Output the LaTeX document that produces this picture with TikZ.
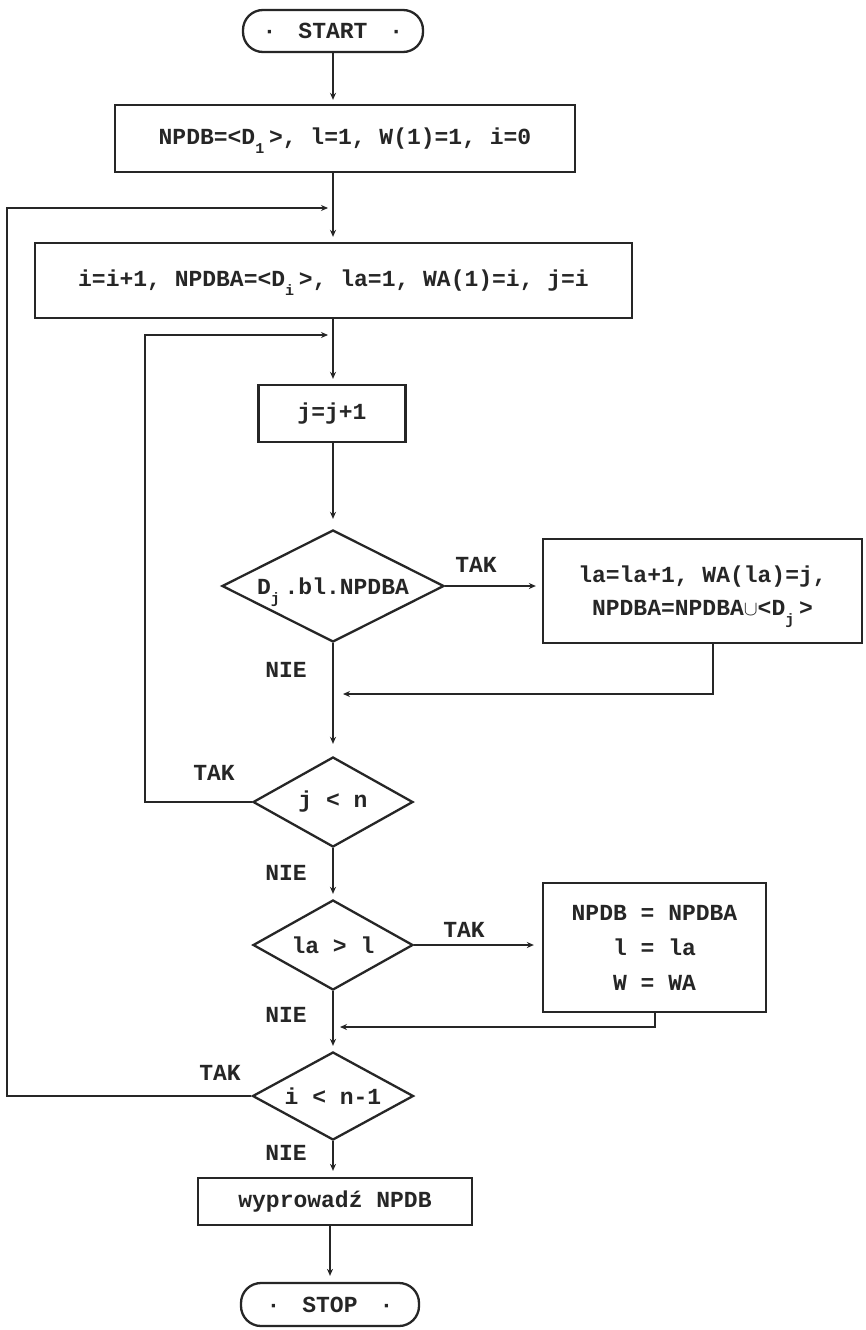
\documentclass[tikz,border=0pt]{standalone}
\usepackage{fontspec}
\setmonofont{Liberation Mono}
\usetikzlibrary{arrows.meta,shapes.geometric,calc}

\definecolor{ink}{HTML}{262626}

% lowered typewriter-style index, occupying one character cell
\newcommand\lowidx[1]{\makebox[13.8pt][l]{\raisebox{-9pt}[0pt][0pt]{\fontsize{15}{15}\selectfont #1}}}

\begin{document}
\begin{tikzpicture}[x=1pt,y=-1pt,
  every node/.style={font=\ttfamily\bfseries\fontsize{23}{33}\selectfont, text=ink},
  procbox/.style={draw=ink, line width=2.3pt, rectangle, inner sep=0pt, align=center},
  termbox/.style={draw=ink, line width=2.3pt, rectangle, rounded corners=20pt, inner sep=0pt},
  decision/.style={draw=ink, line width=2.3pt, diamond, aspect=2, inner sep=0pt},
  flow/.style={draw=ink, line width=2pt, -{Stealth[length=7pt,width=6pt]}},
  lbl/.style={inner sep=0pt}
]
\useasboundingbox (0,0) rectangle (865,1330);
\fill[white] (0,0) rectangle (865,1330);

\coordinate (axis) at (333,0);

% ---- nodes ----
\node[termbox, minimum width=180pt, minimum height=42pt] (start) at (333,31)
  {·\hspace{22pt}START\hspace{22pt}·};

\node[procbox, minimum width=460pt, minimum height=67pt] (init) at (345,138.5)
  {NPDB=<D\lowidx{1}>, l=1, W(1)=1, i=0};

\node[procbox, minimum width=597pt, minimum height=75pt] (outer) at (333.5,280.5)
  {i=i+1, NPDBA=<D\lowidx{i}>, la=1, WA(1)=i, j=i};

\node[procbox, minimum width=147pt, minimum height=57pt] (incr) at (332,413.5)
  {j=j+1};

\node[decision, minimum width=222pt, minimum height=112pt] (dbl) at (333,586)
  {D\lowidx{j}.bl.NPDBA};

\node[procbox, minimum width=319pt, minimum height=104pt] (add) at (702.5,591)
  {la=la+1, WA(la)=j,\\NPDBA=NPDBA{\fontsize{20}{20}\selectfont$\cup$}<D\lowidx{j}>};

\node[decision, minimum width=160pt, minimum height=90pt] (jlt) at (333,802)
  {j < n};

\node[decision, minimum width=160pt, minimum height=90pt] (lagt) at (333,945)
  {la > l};

\node[procbox, minimum width=223pt, minimum height=129pt,
      font=\ttfamily\bfseries\fontsize{23}{35}\selectfont] (best) at (654.5,947.5)
  {NPDB = NPDBA\\l = la\\W = WA};

\node[decision, minimum width=161pt, minimum height=88pt] (ilt) at (333,1096)
  {i < n-1};

\node[procbox, minimum width=274pt, minimum height=47pt] (out) at (335,1201.5)
  {wyprowadź NPDB};

\node[termbox, minimum width=178pt, minimum height=43pt] (stop) at (330,1304.5)
  {·\hspace{22pt}STOP\hspace{22pt}·};

% ---- branch labels ----
\node[lbl] (takA) at (476,565)  {TAK};
\node[lbl] (nieA) at (286,670)  {NIE};
\node[lbl] (takB) at (214,773)  {TAK};
\node[lbl] (nieB) at (286,873)  {NIE};
\node[lbl] (takC) at (464,930)  {TAK};
\node[lbl] (nieC) at (286,1015) {NIE};
\node[lbl] (takD) at (220,1073) {TAK};
\node[lbl] (nieD) at (286,1153) {NIE};

% ---- loop corners and junctions ----
\coordinate (outerL) at (7,208);
\coordinate (innerL) at (145,335);
\coordinate (joinA) at (333,694);
\coordinate (joinB) at (333,1027);

% ---- connectors ----
\draw[flow, shorten >=4pt] (start.south) -- (axis |- init.north);
\draw[flow, shorten >=5pt] (init.south -| axis) -- (axis |- outer.north);
\draw[flow, shorten >=5pt] (ilt.west) -| (outerL) -- (outerL -| axis);

\draw[flow, shorten >=5pt] (outer.south -| axis) -- (axis |- incr.north);
\draw[flow, shorten >=5pt] (jlt.west) -| (innerL) -- (innerL -| axis);

\draw[flow, shorten >=10pt] (incr.south -| axis) -- (dbl.north);
\draw[flow, shorten >=6pt] (dbl.east) -- (dbl.east -| add.west);
\draw[flow, shorten >=10pt] ([xshift=10pt]add.south) |- (joinA);
\draw[flow, shorten >=12pt] (dbl.south) -- (jlt.north);

\draw[flow, shorten >=5pt] (jlt.south) -- (lagt.north);
\draw[flow, shorten >=8pt] (lagt.east) -- (lagt.east -| best.west);
\draw[flow, shorten >=7pt] (best.south) |- (joinB);
\draw[flow, shorten >=5pt] (lagt.south) -- (ilt.north);

\draw[flow, shorten >=6pt] (ilt.south) -- (ilt.south |- out.north);
\draw[flow, shorten >=6pt] (out.south -| stop.north) -- (stop.north);
\end{tikzpicture}
\end{document}
